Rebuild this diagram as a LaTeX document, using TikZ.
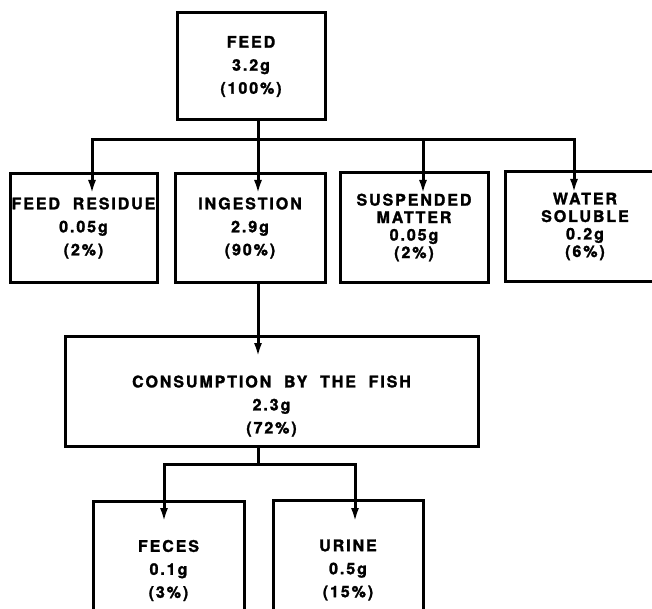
\documentclass[tikz,border=0pt]{standalone}
\usepackage{fontspec}
\setmainfont{TeX Gyre Heros}[LetterSpace=12, WordSpace=2, BoldFeatures={FakeBold=1.6}]
\usepackage{tikz}
\usetikzlibrary{arrows.meta}
\tikzstyle{flowbox}=[rectangle, draw=black, line width=3pt, outer sep=0pt, inner sep=0pt, align=center, font=\bfseries\fontsize{16}{23}\selectfont]
\tikzstyle{tight}=[font=\bfseries\fontsize{16}{17.5}\selectfont]
\tikzstyle{flow}=[line width=3pt]

\begin{document}
\begin{tikzpicture}[x=1pt, y=-1pt, >={Latex[length=14pt, width=8pt]}]
  \useasboundingbox (0,0) rectangle (652,609);

  \node[flowbox] (feed) [minimum width=148pt, minimum height=107pt] at (251,66.5) {FEED\\3.2g\\(100\%)};

  \node[flowbox] (resid) [minimum width=147pt, minimum height=108pt] at (83.5,228) {FEED RESIDUE\\0.05g\\(2\%)};
  \node[flowbox] (ingest) [minimum width=150pt, minimum height=108pt] at (250,228) {INGESTION\\2.9g\\(90\%)};
  \node[flowbox, tight] (susp) [minimum width=148pt, minimum height=109pt] at (414,227.5) {SUSPENDED\\MATTER\\0.05g\\(2\%)};
  \node[flowbox, tight] (water) [minimum width=160pt, minimum height=109pt] at (585,226.5) {WATER\\SOLUBLE\\0.2g\\(6\%)};

  \node[flowbox] (cons) [minimum width=413pt, minimum height=110pt] at (271.5,391) {\rule{0pt}{42pt}CONSUMPTION BY THE FISH\\2.3g\\(72\%)};

  \node[flowbox] (feces) [minimum width=151pt, minimum height=139pt] at (168.5,570.5) {FECES\\0.1g\\(3\%)};
  \node[flowbox] (urine) [minimum width=150pt, minimum height=140pt] at (348,570) {URINE\\0.5g\\(15\%)};

  % splitting points
  \coordinate (fork) at (258,140);
  \coordinate (split) at (258,464);

  \draw[flow, ->] ([xshift=7pt]feed.south) -- ([xshift=8pt, yshift=-20pt]ingest.north);
  \draw[flow, ->] (fork) -| ([xshift=8.5pt, yshift=-20pt]resid.north);
  \draw[flow, ->] (fork) -| ([xshift=9pt, yshift=-21pt]susp.north);
  \draw[flow, ->] (fork) -| ([xshift=-11pt, yshift=-21pt]water.north);

  \draw[flow, ->] ([xshift=8pt]ingest.south) -- ([xshift=-13.5pt, yshift=-21pt]cons.north);
  \draw[flow] ([xshift=-13.5pt]cons.south) -- (split);
  \draw[flow, ->] (split) -| ([xshift=-4.5pt, yshift=-21pt]feces.north);
  \draw[flow, ->] (split) -| ([xshift=7pt, yshift=-22pt]urine.north);
\end{tikzpicture}
\end{document}
